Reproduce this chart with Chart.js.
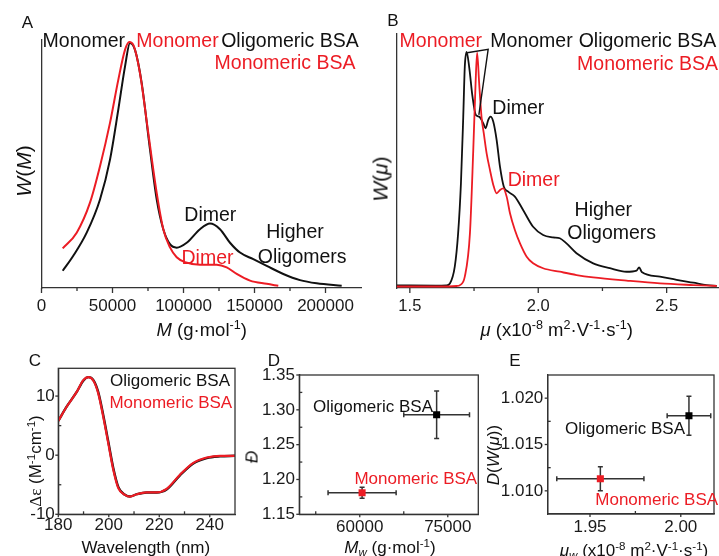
<!DOCTYPE html>
<html>
<head>
<meta charset="utf-8">
<script src="https://cdn.jsdelivr.net/npm/chart.js@4.4.1/dist/chart.umd.min.js"></script>
<style>
html,body{margin:0;padding:0;background:#fff;}
#wrap{position:relative;width:719px;height:556px;overflow:hidden;font-family:"Liberation Sans",Arial,Helvetica,sans-serif;color:#111;}
#wrap canvas{position:absolute;left:0;top:0;}
.t{position:absolute;transform:translate(-50%,-50%);white-space:nowrap;line-height:1;z-index:5;}
.v{transform:translate(-50%,-50%) rotate(-90deg);}
.r{color:#ec1c24;}
.a19{font-size:19.5px;}
.a17{font-size:17px;}
.tt{font-size:18.5px;}
.ty{font-size:21px;}
.tc{font-size:17px;}
.lt{font-size:17px;}
sup{font-size:0.68em;vertical-align:0.5em;line-height:0;}
sub{font-size:0.68em;vertical-align:-0.3em;line-height:0;}
.serif{font-family:"Liberation Serif","Times New Roman",serif;}
</style>
</head>
<body>
<div id="wrap">
<canvas id="cA"></canvas>
<canvas id="cB"></canvas>
<canvas id="cC"></canvas>
<canvas id="cD"></canvas>
<canvas id="cE"></canvas>

<!-- panel letters -->
<div class="t lt" style="left:27.5px;top:21.5px">A</div>
<div class="t lt" style="left:393px;top:20px">B</div>
<div class="t lt" style="left:35px;top:360px">C</div>
<div class="t lt" style="left:274px;top:360px">D</div>
<div class="t lt" style="left:515px;top:360px">E</div>

<!-- panel A -->
<div class="t a19" style="left:83.8px;top:40.5px">Monomer</div>
<div class="t a19 r" style="left:177.5px;top:40.5px">Monomer</div>
<div class="t a19" style="left:290px;top:40.5px">Oligomeric BSA</div>
<div class="t a19 r" style="left:285px;top:63.3px">Monomeric BSA</div>
<div class="t a19" style="left:210.3px;top:215px">Dimer</div>
<div class="t a19 r" style="left:207.5px;top:258.3px">Dimer</div>
<div class="t a19" style="left:295px;top:231.7px">Higher</div>
<div class="t a19" style="left:302.2px;top:256.7px">Oligomers</div>
<div class="t tt" style="left:201.7px;top:330px"><i>M</i> (g·mol<sup>-1</sup>)</div>
<div class="t ty v" style="left:22.5px;top:171px"><i>W</i>(<i>M</i>)</div>

<!-- panel B -->
<div class="t a19 r" style="left:440.8px;top:40.8px">Monomer</div>
<div class="t a19" style="left:531.5px;top:40.8px">Monomer</div>
<div class="t a19" style="left:647.5px;top:40.8px">Oligomeric BSA</div>
<div class="t a19 r" style="left:647.5px;top:64px">Monomeric BSA</div>
<div class="t a19" style="left:518.3px;top:108.3px">Dimer</div>
<div class="t a19 r" style="left:533.7px;top:180px">Dimer</div>
<div class="t a19" style="left:603.3px;top:210px">Higher</div>
<div class="t a19" style="left:611.7px;top:233.3px">Oligomers</div>
<div class="t tt" style="left:556.7px;top:330px"><i>μ</i> (x10<sup>-8</sup> m<sup>2</sup>·V<sup>-1</sup>·s<sup>-1</sup>)</div>
<div class="t ty v" style="left:380px;top:179px"><i>W</i>(<i>μ</i>)</div>

<!-- panel C -->
<div class="t a17" style="left:170px;top:380px">Oligomeric BSA</div>
<div class="t a17 r" style="left:170.8px;top:401.7px">Monomeric BSA</div>
<div class="t tc" style="left:145.8px;top:546.7px">Wavelength (nm)</div>
<div class="t tc v" style="left:34.5px;top:460.8px"><span class="serif">Δε</span> (M<sup>-1</sup>cm<sup>-1</sup>)</div>

<!-- panel D -->
<div class="t a17" style="left:373px;top:406.3px">Oligomeric BSA</div>
<div class="t a17 r" style="left:415.8px;top:477.5px">Monomeric BSA</div>
<div class="t tc" style="left:390px;top:547px"><i>M<sub>w</sub></i> (g·mol<sup>-1</sup>)</div>
<div class="t tc v" style="left:251.7px;top:456.7px"><i>Đ</i></div>

<!-- panel E -->
<div class="t a17" style="left:625px;top:428.3px">Oligomeric BSA</div>
<div class="t a17 r" style="left:656.7px;top:499.3px">Monomeric BSA</div>
<div class="t tc" style="left:634px;top:550px"><i>μ<sub>w</sub></i> (x10<sup>-8</sup> m<sup>2</sup>·V<sup>-1</sup>·s<sup>-1</sup>)</div>
<div class="t tc v" style="left:492.5px;top:455px"><i>D</i>(<i>W</i>(<i>μ</i>))</div>
</div>

<script>
const W = 719, H = 556;
const BLACK = '#111111', RED = '#ec1c24', AXIS = '#333333';
const FONT = '"Liberation Sans", Arial, Helvetica, sans-serif';

// ---------- Panel A: W(M) vs M ----------
const aOligoM = [14930,22390,31830,41200,48240,54080,58800,62320,65840,70560,76400,81120,85770,90490,95210,102250,111620,118660,125700,132750,139790,149150,158590,170280,182040,193800,211400];
const aOligoW = [0.070,0.131,0.225,0.360,0.522,0.725,0.900,0.996,0.968,0.833,0.563,0.360,0.239,0.178,0.164,0.184,0.239,0.262,0.239,0.184,0.144,0.117,0.090,0.057,0.032,0.019,0.009];
const aMonoM = [14930,24790,34150,41200,48240,54080,58800,61830,64650,69350,75200,81120,85770,90490,95210,101050,111620,123380,130420,137460,146830,158590,166750];
const aMonoW = [0.161,0.225,0.347,0.495,0.671,0.846,0.968,1.000,0.988,0.873,0.630,0.387,0.239,0.165,0.125,0.105,0.095,0.095,0.084,0.057,0.030,0.017,0.009];
const aXTicks = [0, 50000, 100000, 150000, 200000];
const aXLabels = ['0', '50000', '100000', '150000', '200000'];
const aXMinor = [25000, 75000, 125000, 175000];

// ---------- Panel B: W(mu) vs mu ----------
const bOligoMu = [1.448,1.600,1.643,1.656,1.675,1.688,1.699,1.708,1.714,1.721,1.731,1.744,1.757,1.770,1.786,1.795,1.805,1.814,1.825,1.838,1.851,1.866,1.883,1.909,1.941,1.980,2.019,2.058,2.084,2.110,2.149,2.214,2.279,2.344,2.383,2.393,2.403,2.474,2.539,2.604,2.656,2.695];
const bOligoW = [0.003,0.002,0.003,0.011,0.083,0.225,0.439,0.724,0.937,1.000,0.937,0.809,0.731,0.724,0.695,0.674,0.709,0.724,0.702,0.624,0.510,0.424,0.403,0.382,0.325,0.253,0.218,0.208,0.204,0.182,0.140,0.097,0.076,0.061,0.066,0.080,0.060,0.040,0.026,0.014,0.004,0.001];
const bMonoMu = [1.448,1.650,1.682,1.695,1.714,1.734,1.747,1.756,1.762,1.770,1.779,1.788,1.799,1.812,1.825,1.838,1.851,1.864,1.877,1.890,1.909,1.929,1.955,1.980,2.019,2.084,2.149,2.214,2.344,2.474,2.604,2.695];
const bMonoW = [-0.002,-0.002,0.000,0.004,0.040,0.225,0.581,0.866,0.997,0.866,0.724,0.652,0.567,0.496,0.432,0.396,0.410,0.417,0.382,0.311,0.239,0.182,0.125,0.097,0.076,0.061,0.047,0.037,0.023,0.011,0.004,0.000];
const bXTicks = [1.5, 2.0, 2.5];
const bXLabels = ['1.5', '2.0', '2.5'];
const bXMinor = [1.75, 2.25];
const bPointerMu = [1.7232, 1.805, 1.7688];
const bPointerW = [0.997, 1.0115, 0.731];

// ---------- Panel C: CD spectra ----------
const cWave = [180,183.3,187.3,189.9,191.9,193.9,195.8,197.8,199.8,201.8,203.8,206.4,208.4,211.1,215.0,219.0,222.9,228.2,233.5,238.8,244.1,250];
const cOligo = [5.8,8.2,10.7,12.6,13.2,12.7,10.7,6.8,2.3,-2.2,-5.4,-6.7,-7.0,-6.6,-6.3,-6.3,-5.8,-3.4,-1.4,-0.5,-0.2,-0.1];
const cMono = [5.8,8.2,10.7,12.7,13.2,12.6,10.5,6.5,2.0,-2.5,-5.6,-6.7,-7.0,-6.6,-6.3,-6.3,-5.7,-3.3,-1.3,-0.4,-0.1,-0.1];
const cXTicks = [180, 200, 220, 240];
const cXLabels = ['180', '200', '220', '240'];
const cXMinor = [190, 210, 230];
const cYTicks = [-10, 0, 10];
const cYLabels = ['-10', '0', '10'];
const cYMinor = [-5, 5];

// ---------- Panel D: dispersity vs Mw ----------
const dSamples = ['Oligomeric BSA', 'Monomeric BSA'];
const dMw = [73100, 60400];
const dMwErr = [5600, 5800];
const dDisp = [1.293, 1.181];
const dDispErr = [0.034, 0.008];
const dXTicks = [60000, 75000];
const dXLabels = ['60000', '75000'];
const dXMinor = [52500, 67500];
const dYTicks = [1.15, 1.20, 1.25, 1.30, 1.35];
const dYLabels = ['1.15', '1.20', '1.25', '1.30', '1.35'];
const dYMinor = [1.175, 1.225, 1.275, 1.325];

// ---------- Panel E: D(W(mu)) vs mu_w ----------
const eSamples = ['Oligomeric BSA', 'Monomeric BSA'];
const eMu = [2.0045, 1.9557];
const eMuErr = [0.012, 0.024];
const eD = [1.0181, 1.0113];
const eDErr = [0.0021, 0.0013];
const eXTicks = [1.95, 2.00];
const eXLabels = ['1.95', '2.00'];
const eXMinor = [1.975];
const eYTicks = [1.010, 1.015, 1.020];
const eYLabels = ['1.010', '1.015', '1.020'];
const eYMinor = [1.0125, 1.0175];

function toXY(xs, ys) { return xs.map((x, i) => ({x: x, y: ys[i]})); }

const marksPlugin = {
  id: 'marks',
  beforeDatasetsDraw(chart, args, o) {
    if (!o || !o.err) return;
    const ctx = chart.ctx, sx = chart.scales.x, sy = chart.scales.y;
    ctx.save();
    ctx.strokeStyle = '#333333';
    ctx.lineWidth = 1.5;
    o.err.forEach(s => {
      s.x.forEach((xv, i) => {
        const px = sx.getPixelForValue(xv), py = sy.getPixelForValue(s.y[i]);
        const x0 = sx.getPixelForValue(xv - s.xe[i]), x1 = sx.getPixelForValue(xv + s.xe[i]);
        const y0 = sy.getPixelForValue(s.y[i] - s.ye[i]), y1 = sy.getPixelForValue(s.y[i] + s.ye[i]);
        const c = 2.5;
        ctx.beginPath();
        ctx.moveTo(x0, py); ctx.lineTo(x1, py);
        ctx.moveTo(px, y0); ctx.lineTo(px, y1);
        ctx.moveTo(x0, py - c); ctx.lineTo(x0, py + c);
        ctx.moveTo(x1, py - c); ctx.lineTo(x1, py + c);
        ctx.moveTo(px - c, y0); ctx.lineTo(px + c, y0);
        ctx.moveTo(px - c, y1); ctx.lineTo(px + c, y1);
        ctx.stroke();
      });
    });
    ctx.restore();
  },
  afterDraw(chart, args, o) {
    if (!o) return;
    const ctx = chart.ctx, a = chart.chartArea;
    ctx.save();
    ctx.strokeStyle = AXIS;
    ctx.lineWidth = 1.3;
    ['x', 'y'].forEach(id => {
      const t = o[id];
      if (!t) return;
      const sc = chart.scales[id];
      const draw = (vals, len) => vals.forEach(v => {
        const p = sc.getPixelForValue(v);
        ctx.beginPath();
        if (id === 'x') { ctx.moveTo(p, a.bottom); ctx.lineTo(p, a.bottom + len); }
        else { ctx.moveTo(a.left, p); ctx.lineTo(a.left - len, p); }
        ctx.stroke();
      });
      draw(t.major, t.len);
      draw(t.minor, t.minorLen);
    });
    if (o.box) ctx.strokeRect(a.left, a.top, a.right - a.left, a.bottom - a.top);
    if (o.pointer) {
      const sx = chart.scales.x, sy = chart.scales.y, pt = o.pointer;
      ctx.strokeStyle = BLACK;
      ctx.lineWidth = 1.4;
      ctx.beginPath();
      ctx.moveTo(sx.getPixelForValue(pt.x[0]), sy.getPixelForValue(pt.y[0]));
      ctx.lineTo(sx.getPixelForValue(pt.x[1]), sy.getPixelForValue(pt.y[1]));
      ctx.lineTo(sx.getPixelForValue(pt.x[2]), sy.getPixelForValue(pt.y[2]));
      ctx.stroke();
    }
    ctx.restore();
  }
};

function makeChart(id, cfg) {
  const cv = document.getElementById(id);
  cv.width = W; cv.height = H;
  const p = cfg.plot;
  const axis = (k) => {
    const a = cfg[k];
    const all = [...a.major, ...(a.minor || [])].sort((m, n) => m - n);
    return {
      type: 'linear', min: a.min, max: a.max,
      grid: {display: false, drawTicks: false},
      border: {display: true, color: AXIS, width: 1.3},
      ticks: {
        display: !!a.labels, autoSkip: false, maxRotation: 0, minRotation: 0,
        padding: a.pad || 0, color: '#1a1a1a',
        font: {family: FONT, size: a.size || 16},
        callback: (v) => {
          if (!a.labels) return '';
          const i = a.major.findIndex(m => Math.abs(m - v) < 1e-9 * Math.max(1, Math.abs(m)));
          return i >= 0 ? a.labels[i] : '';
        }
      },
      afterBuildTicks: (s) => { s.ticks = all.map(v => ({value: v})); },
      afterFit: (s) => { if (k === 'x') s.height = H - p.bottom; else s.width = p.left; }
    };
  };
  return new Chart(cv, {
    type: cfg.type || 'line',
    data: {datasets: cfg.datasets},
    options: {
      responsive: false, animation: false, events: [],
      layout: {padding: {left: 0, top: p.top, right: W - p.right, bottom: 0}},
      plugins: {legend: {display: false}, tooltip: {enabled: false}, marks: cfg.marks},
      scales: {x: axis('x'), y: axis('y')}
    },
    plugins: [marksPlugin]
  });
}

const lineDs = (label, xs, ys, color, width) => ({
  label: label, data: toXY(xs, ys), borderColor: color, backgroundColor: color,
  borderWidth: width, pointRadius: 0, fill: false, cubicInterpolationMode: 'monotone'
});

// Panel A
makeChart('cA', {
  plot: {left: 41.5, right: 361, top: 40, bottom: 288},
  datasets: [
    lineDs('Monomeric BSA', aMonoM, aMonoW, RED, 2),
    lineDs('Oligomeric BSA', aOligoM, aOligoW, BLACK, 2)
  ],
  x: {min: 0, max: 225000, major: aXTicks, minor: aXMinor, labels: aXLabels, size: 17, pad: 8},
  y: {min: 0, max: 1.008, major: [], labels: null},
  marks: {x: {major: aXTicks, minor: aXMinor, len: 5, minorLen: 3}}
});

// Panel B
makeChart('cB', {
  plot: {left: 397, right: 718, top: 34, bottom: 288},
  datasets: [
    lineDs('Monomeric BSA', bMonoMu, bMonoW, RED, 1.8),
    lineDs('Oligomeric BSA', bOligoMu, bOligoW, BLACK, 1.8)
  ],
  x: {min: 1.45, max: 2.70, major: bXTicks, minor: bXMinor, labels: bXLabels, size: 16.5, pad: 9},
  y: {min: -0.0085, max: 1.077, major: [], labels: null},
  marks: {x: {major: bXTicks, minor: bXMinor, len: 5, minorLen: 3},
          pointer: {x: bPointerMu, y: bPointerW}}
});

// Panel C
makeChart('cC', {
  plot: {left: 58.3, right: 235, top: 368.3, bottom: 514.3},
  datasets: [
    lineDs('Monomeric BSA', cWave, cMono, RED, 2.2),
    lineDs('Oligomeric BSA', cWave, cOligo, BLACK, 2.4)
  ],
  x: {min: 180, max: 250, major: cXTicks, minor: cXMinor, labels: cXLabels, size: 17, pad: 1},
  y: {min: -10, max: 14.7, major: cYTicks, minor: cYMinor, labels: cYLabels, size: 17, pad: 3.5},
  marks: {x: {major: cXTicks, minor: cXMinor, len: 3, minorLen: -3},
          y: {major: cYTicks, minor: cYMinor, len: 3, minorLen: -3}, box: true}
});

// Panel D
makeChart('cD', {
  type: 'scatter',
  plot: {left: 299.3, right: 478.3, top: 375, bottom: 514.3},
  datasets: [
    {label: dSamples[1], data: [{x: dMw[1], y: dDisp[1]}], pointStyle: 'rect', pointRadius: 5, backgroundColor: RED, borderColor: RED, borderWidth: 0},
    {label: dSamples[0], data: [{x: dMw[0], y: dDisp[0]}], pointStyle: 'rect', pointRadius: 5, backgroundColor: '#000', borderColor: '#000', borderWidth: 0}
  ],
  x: {min: 49700, max: 80200, major: dXTicks, minor: dXMinor, labels: dXLabels, size: 17, pad: 2.7},
  y: {min: 1.15, max: 1.35, major: dYTicks, minor: dYMinor, labels: dYLabels, size: 17, pad: 4.3},
  marks: {x: {major: dXTicks, minor: dXMinor, len: 3, minorLen: -3},
          y: {major: dYTicks, minor: dYMinor, len: 3, minorLen: -3}, box: true,
          err: [{x: dMw, y: dDisp, xe: dMwErr, ye: dDispErr}]}
});

// Panel E
makeChart('cE', {
  type: 'scatter',
  plot: {left: 547.7, right: 718, top: 375, bottom: 514},
  datasets: [
    {label: eSamples[1], data: [{x: eMu[1], y: eD[1]}], pointStyle: 'rect', pointRadius: 5, backgroundColor: RED, borderColor: RED, borderWidth: 0},
    {label: eSamples[0], data: [{x: eMu[0], y: eD[0]}], pointStyle: 'rect', pointRadius: 5, backgroundColor: '#000', borderColor: '#000', borderWidth: 0}
  ],
  x: {min: 1.9267, max: 2.0183, major: eXTicks, minor: eXMinor, labels: eXLabels, size: 17, pad: 2.7},
  y: {min: 1.0075, max: 1.0225, major: eYTicks, minor: eYMinor, labels: eYLabels, size: 17, pad: 4.4},
  marks: {x: {major: eXTicks, minor: eXMinor, len: 3, minorLen: -3},
          y: {major: eYTicks, minor: eYMinor, len: 3, minorLen: -3}, box: true,
          err: [{x: eMu, y: eD, xe: eMuErr, ye: eDErr}]}
});
</script>
</body>
</html>
